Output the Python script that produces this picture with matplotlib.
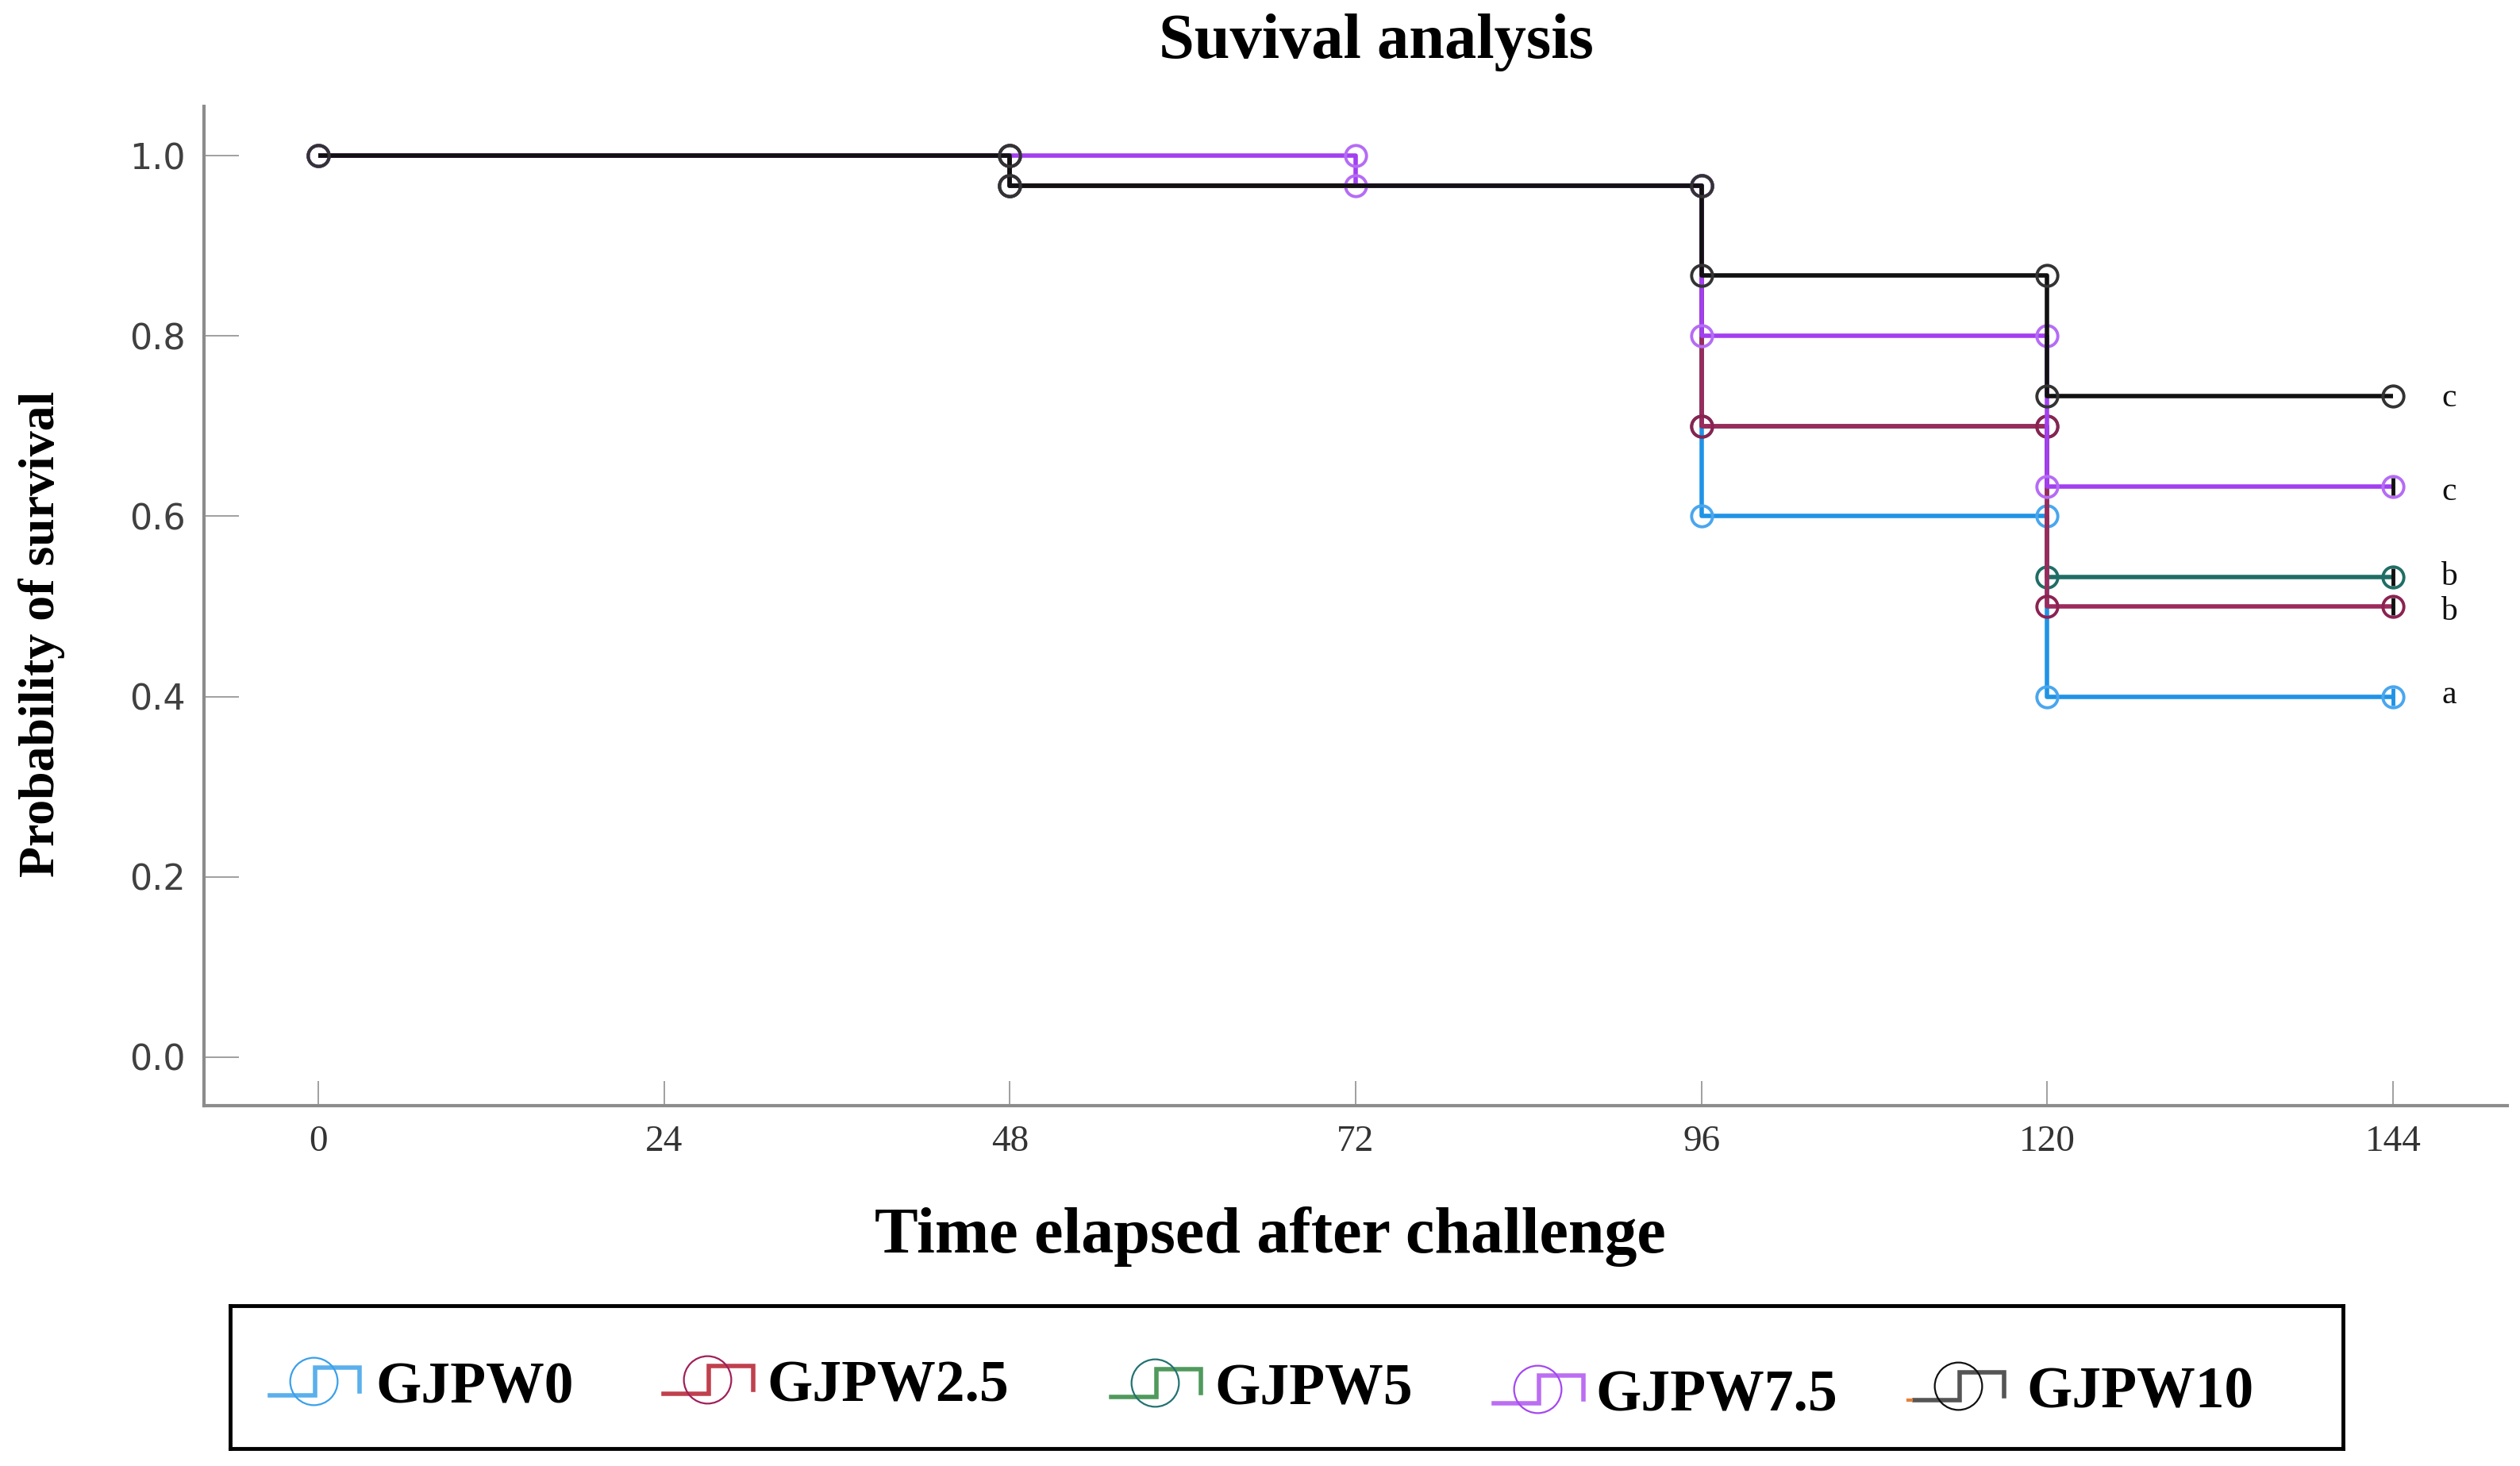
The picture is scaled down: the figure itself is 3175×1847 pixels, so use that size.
import matplotlib
matplotlib.use("Agg")
import matplotlib.pyplot as plt

W, H = 3175, 1847
DPI = 100

# ---------------- data ----------------
groups = ["GJPW0", "GJPW2.5", "GJPW5", "GJPW7.5", "GJPW10"]
gjpw0_t = [0, 48, 96, 120, 144]
gjpw0_s = [1.0, 0.967, 0.6, 0.4, 0.4]
gjpw25_t = [0, 48, 96, 120, 144]
gjpw25_s = [1.0, 0.967, 0.7, 0.5, 0.5]
gjpw5_t = [0, 48, 96, 120, 144]
gjpw5_s = [1.0, 0.967, 0.7, 0.533, 0.533]
gjpw75_t = [0, 72, 96, 120, 144]
gjpw75_s = [1.0, 0.967, 0.8, 0.633, 0.633]
gjpw10_t = [0, 48, 96, 120, 144]
gjpw10_s = [1.0, 0.967, 0.867, 0.733, 0.733]
sig_letters = ["a", "b", "b", "c", "c"]
x_ticks = [0, 24, 48, 72, 96, 120, 144]
y_ticks = [0.0, 0.2, 0.4, 0.6, 0.8, 1.0]

series = {
    "GJPW0": (gjpw0_t, gjpw0_s),
    "GJPW2.5": (gjpw25_t, gjpw25_s),
    "GJPW5": (gjpw5_t, gjpw5_s),
    "GJPW7.5": (gjpw75_t, gjpw75_s),
    "GJPW10": (gjpw10_t, gjpw10_s),
}

# ---------------- style ----------------
line_colors = {"GJPW0": "#1f93e6", "GJPW2.5": "#9c2a5c", "GJPW5": "#1f6e66",
               "GJPW7.5": "#a23ff0", "GJPW10": "#111111"}
marker_colors = {"GJPW0": "#4aa6ee", "GJPW2.5": "#8b2252", "GJPW5": "#1f6e66",
                 "GJPW7.5": "#b56cf5", "GJPW10": "#333333"}
censor_colors = {"GJPW0": "#1f93e6", "GJPW2.5": "#111111", "GJPW5": "#111111",
                 "GJPW7.5": "#111111", "GJPW10": None}
leg_line_colors = {"GJPW0": "#5ab0ec", "GJPW2.5": "#c0404e", "GJPW5": "#4f9a5c",
                   "GJPW7.5": "#bb6ef2", "GJPW10": "#555555"}
leg_circle_colors = {"GJPW0": "#3aa0ea", "GJPW2.5": "#a0205a", "GJPW5": "#227272",
                     "GJPW7.5": "#a448f0", "GJPW10": "#111111"}
draw_order = ["GJPW0", "GJPW5", "GJPW2.5", "GJPW7.5", "GJPW10"]
letter_offsets = {"GJPW0": 1, "GJPW2.5": -5, "GJPW5": 0, "GJPW7.5": -5, "GJPW10": -2}

serif = ["Liberation Serif", "DejaVu Serif"]

fig = plt.figure(figsize=(W / DPI, H / DPI), dpi=DPI)
fig.patch.set_facecolor("white")

ax = fig.add_axes([257 / W, 1 - 1393 / H, (3159 - 257) / W, (1393 - 134) / H])
ax.set_xlim(-7.93, 151.93)
ax.set_ylim(-0.0537, 1.0546)

for z, g in enumerate(draw_order):
    t, s = series[g]
    ax.step(t, s, where="post", color=line_colors[g], lw=4.0, zorder=2 + z,
            solid_capstyle="butt")
    mx, my = [t[0]], [s[0]]
    for i in range(1, len(t)):
        if s[i] != s[i - 1]:
            mx += [t[i], t[i]]
            my += [s[i - 1], s[i]]
    mx.append(t[-1])
    my.append(s[-1])
    ax.plot(mx, my, ls="none", marker="o", ms=19, mfc="none",
            mec=marker_colors[g], mew=2.8, zorder=2.5 + z)
    if censor_colors[g]:
        ax.plot([t[-1]], [s[-1]], ls="none", marker="|", ms=16,
                mec=censor_colors[g], mew=3.5, zorder=2.6 + z)

for g, letter in zip(groups, sig_letters):
    t, s = series[g]
    ax.annotate(letter, xy=(147.9, s[-1]), xytext=(0, letter_offsets[g]),
                textcoords="offset points", ha="center", va="center",
                fontsize=30, family=serif, color="#111111")

for sp in ["top", "right"]:
    ax.spines[sp].set_visible(False)
for sp in ["left", "bottom"]:
    ax.spines[sp].set_color("#8c8c8c")
    ax.spines[sp].set_linewidth(3.0)

ax.set_xticks(x_ticks)
ax.set_xticklabels([str(v) for v in x_ticks], family=serif, fontsize=34,
                   color="#333333")
ax.set_yticks(y_ticks)
ax.set_yticklabels([f"{v:.1f}" for v in y_ticks], family="DejaVu Sans",
                   fontsize=32, color="#404040")
ax.tick_params(axis="x", direction="in", length=22, width=1.4, color="#a0a0a0", pad=18)
ax.tick_params(axis="y", direction="in", length=32, width=1.4, color="#a0a0a0", pad=17)

# titles / labels
fig.text(1734 / W, 1 - 73 / H, "Suvival analysis", ha="center", va="baseline",
         fontsize=58, fontweight="bold", family=serif)
fig.text(1600 / W, 1 - 1578 / H, "Time elapsed after challenge", ha="center",
         va="baseline", fontsize=59, fontweight="bold", family=serif)
fig.text(53 / W, 1 - 799 / H, "Probability of survival", ha="center", va="center",
         rotation=90, fontsize=46, fontweight="bold", family=serif)

# ---------------- legend box ----------------
lax = fig.add_axes([290 / W, 1 - 1825 / H, (2952 - 290) / W, (1825 - 1645) / H])
lax.set_xlim(290, 2952)
lax.set_ylim(1825, 1645)
lax.set_xticks([])
lax.set_yticks([])
for sp in lax.spines.values():
    sp.set_color("black")
    sp.set_linewidth(3.5)

icon_x = {"GJPW0": 340, "GJPW2.5": 836, "GJPW5": 1400, "GJPW7.5": 1882, "GJPW10": 2412}
text_x = {"GJPW0": 473, "GJPW2.5": 966, "GJPW5": 1530, "GJPW7.5": 2010, "GJPW10": 2553}
base_y = {"GJPW0": 1768, "GJPW2.5": 1766, "GJPW5": 1770, "GJPW7.5": 1778, "GJPW10": 1774}
for g in groups:
    x0 = icon_x[g]
    yb = base_y[g]
    lo, hi = yb - 10, yb - 45
    lax.plot([x0, x0 + 57, x0 + 57, x0 + 113, x0 + 113], [lo, lo, hi, hi, lo - 5],
             color=leg_line_colors[g], lw=4.0, solid_joinstyle="miter")
    lax.plot([x0 + 55], [yb - 28], marker="o", ms=43, mfc="none",
             mec=leg_circle_colors[g], mew=1.6)
    if g == "GJPW10":
        lax.plot([x0 - 8, x0 - 4], [lo, lo], color="#e8803a", lw=3)
    lax.text(text_x[g], yb, g, ha="left", va="baseline", fontsize=53,
             fontweight="bold", family=serif)

fig.savefig("out.png", dpi=DPI, facecolor="white")
